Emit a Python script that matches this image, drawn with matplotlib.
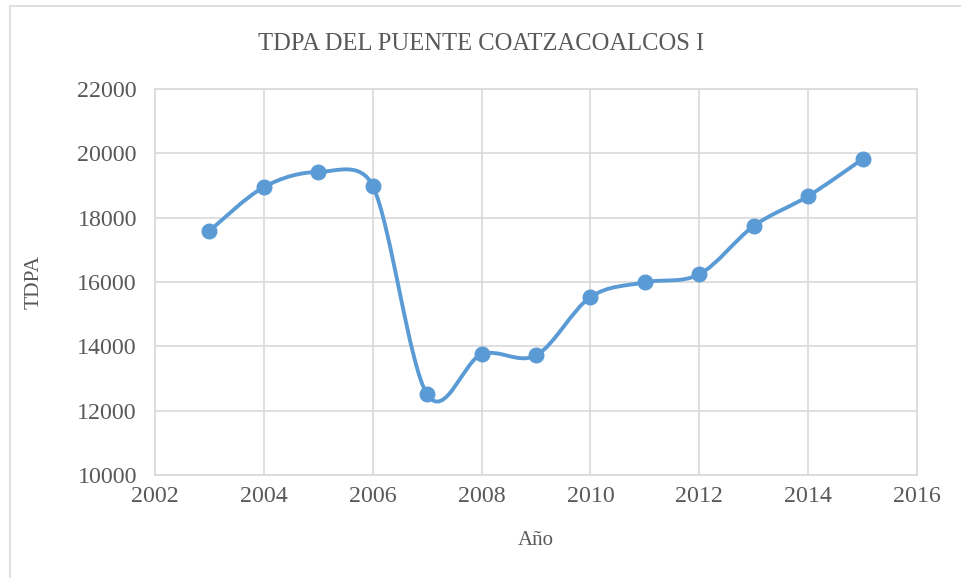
import numpy as np
import matplotlib.pyplot as plt
from matplotlib.path import Path
from matplotlib.patches import PathPatch, Rectangle

years = [2003, 2004, 2005, 2006, 2007, 2008, 2009, 2010, 2011, 2012, 2013, 2014, 2015]
tdpa = [17590, 18950, 19420, 18990, 12510, 13750, 13720, 15530, 15990, 16240, 17740, 18670, 19820]

x_ticks = [2002, 2004, 2006, 2008, 2010, 2012, 2014, 2016]
y_ticks = [10000, 12000, 14000, 16000, 18000, 20000, 22000]

line_color = '#5B9BD5'
grid_color = '#D9D9D9'
text_color = '#595959'

plt.rcParams['font.family'] = ['Liberation Serif', 'DejaVu Serif']


def handle(tangent, seg_len, k=0.5):
    # Catmull-Rom handle (tangent / 6), capped at k * segment length on screen
    length = np.hypot(*tangent) / 6.0
    if length == 0:
        return tangent * 0.0
    return tangent / np.hypot(*tangent) * min(length, k * seg_len)


def smooth_path(ax, xs, ys):
    """
    Cubic Bezier through the points, built in display space.
    """
    pts = ax.transData.transform(np.column_stack([xs, ys]).astype(float))
    n = len(pts)
    verts = [pts[0]]
    codes = [Path.MOVETO]
    for i in range(n - 1):
        p_prev = pts[i - 1] if i > 0 else pts[i]
        p0 = pts[i]
        p1 = pts[i + 1]
        p_next = pts[i + 2] if i + 2 < n else pts[i + 1]
        seg = np.hypot(*(p1 - p0))
        c1 = p0 + handle(p1 - p_prev, seg)
        c2 = p1 - handle(p_next - p0, seg)
        verts += [c1, c2, p1]
        codes += [Path.CURVE4] * 3
    verts = ax.transData.inverted().transform(np.array(verts))
    return Path(verts, codes)


fig = plt.figure(figsize=(9.62, 5.78), dpi=100)
fig.patches.append(Rectangle((10 / 962, -0.05), 1.1, (578 - 6) / 578 + 0.05,
                             transform=fig.transFigure, fill=False,
                             edgecolor=grid_color, linewidth=1.2))
ax = fig.add_axes([155 / 962, 103 / 578, 762 / 962, 386 / 578])
ax.set_xlim(2002, 2016)
ax.set_ylim(10000, 22000)

ax.add_patch(PathPatch(smooth_path(ax, years, tdpa), facecolor='none',
                       edgecolor=line_color, linewidth=2.8,
                       capstyle='round', joinstyle='round', zorder=3))
ax.plot(years, tdpa, linestyle='none', marker='o', markersize=10.5,
        color=line_color, zorder=4)

ax.set_xticks(x_ticks)
ax.set_yticks(y_ticks)
ax.grid(True, color=grid_color, linewidth=1.2)
ax.set_axisbelow(True)
for s in ax.spines.values():
    s.set_color(grid_color)
    s.set_linewidth(1.2)
ax.tick_params(axis='y', length=0, labelsize=17.3, colors=text_color, pad=13)
ax.tick_params(axis='x', length=0, labelsize=17.3, colors=text_color, pad=8)

fig.text(481 / 962, 1 - 44 / 578, 'TDPA DEL PUENTE COATZACOALCOS I',
         fontsize=17.7, color=text_color, ha='center', va='center')
ax.set_xlabel('Año', fontsize=15, color=text_color, labelpad=17)
ax.set_ylabel('TDPA', fontsize=15.5, color=text_color, labelpad=24)

fig.savefig('out.png', dpi=100)
